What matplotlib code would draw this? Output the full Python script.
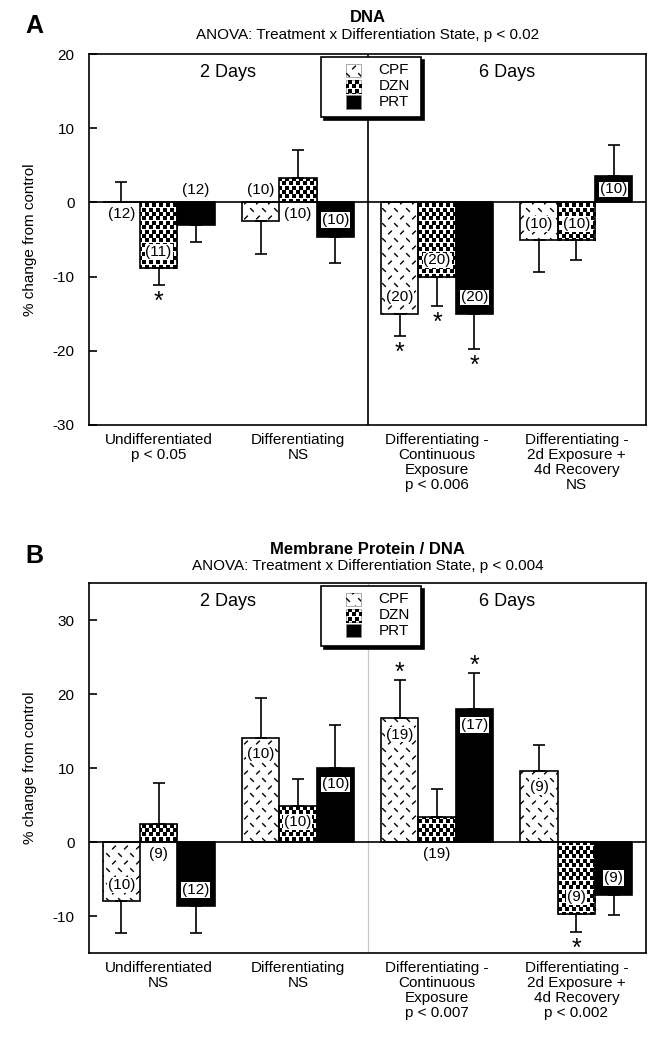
import numpy as np
import matplotlib
matplotlib.use("Agg")
import matplotlib.pyplot as plt
from matplotlib.patches import Rectangle
from matplotlib.path import Path
from matplotlib.transforms import IdentityTransform, blended_transform_factory, offset_copy

plt.rcParams['font.family'] = ['Liberation Sans', 'DejaVu Sans']
plt.rcParams['axes.unicode_minus'] = False

# ---------------- data ----------------
treatments = ["CPF", "DZN", "PRT"]

groups_A = ["Undifferentiated\np < 0.05", "Differentiating\nNS",
            "Differentiating -\nContinuous\nExposure\np < 0.006",
            "Differentiating -\n2d Exposure +\n4d Recovery\nNS"]
groups_B = ["Undifferentiated\nNS", "Differentiating\nNS",
            "Differentiating -\nContinuous\nExposure\np < 0.007",
            "Differentiating -\n2d Exposure +\n4d Recovery\np < 0.002"]

# Panel A: DNA (% change from control)
dna_cpf = [0.0, -2.5, -15.0, -5.1]
dna_dzn = [-8.9, 3.3, -10.0, -5.1]
dna_prt = [-3.1, -4.6, -15.0, 3.5]
dna_cpf_err = [2.7, 4.5, 3.0, 4.3]
dna_dzn_err = [2.2, 3.7, 4.0, 2.7]
dna_prt_err = [2.2, 3.5, 4.8, 4.2]
dna_cpf_n = [12, 10, 20, 10]
dna_dzn_n = [11, 10, 20, 10]
dna_prt_n = [12, 10, 20, 10]
dna_cpf_sig = [False, False, True, False]
dna_dzn_sig = [True, False, True, False]
dna_prt_sig = [False, False, True, False]

# Panel B: Membrane Protein / DNA (% change from control)
mp_cpf = [-8.0, 14.1, 16.7, 9.6]
mp_dzn = [2.4, 4.9, 3.4, -9.7]
mp_prt = [-8.7, 10.0, 18.0, -7.1]
mp_cpf_err = [4.3, 5.4, 5.2, 3.5]
mp_dzn_err = [5.6, 3.6, 3.8, 2.5]
mp_prt_err = [3.6, 5.8, 4.8, 2.7]
mp_cpf_n = [10, 10, 19, 9]
mp_dzn_n = [9, 10, 19, 9]
mp_prt_n = [12, 10, 17, 9]
mp_cpf_sig = [False, False, True, False]
mp_dzn_sig = [False, False, False, True]
mp_prt_sig = [False, False, True, False]

# label placement style (inside bar or outside across the zero line)
dna_inside = [[False, False, True, True], [True, False, True, True], [False, True, True, True]]
mp_inside = [[True, True, True, True], [False, True, False, True], [True, True, True, True]]

# ---------------- figure ----------------
W, H = 658, 1050
fig = plt.figure(figsize=(W / 100, H / 100), dpi=100)


def px_axes(l, t, r, b):
    return fig.add_axes([l / W, 1 - b / H, (r - l) / W, (b - t) / H])


BACKSLASH = Path([(-1, 1), (1, -1)])
SLASH = Path([(-1, -1), (1, 1)])


def add_texture(ax, patch, kind, zorder):
    if kind not in ("CPF", "DZN"):
        return
    bb = patch.get_window_extent()
    if bb.width <= 0 or bb.height <= 0:
        return
    if kind == "CPF":
        sx, sy = 12.0, 7.5
    else:
        sx, sy = 7.0, 4.4
    j0, j1 = int(np.floor(bb.y0 / sy)) - 1, int(np.ceil(bb.y1 / sy)) + 1
    i0, i1 = int(np.floor(bb.x0 / sx)) - 1, int(np.ceil(bb.x1 / sx)) + 1
    even, odd = [], []
    for j in range(j0, j1 + 1):
        shift = (j % 2) * sx / 2
        for i in range(i0, i1 + 1):
            (even if j % 2 == 0 else odd).append((i * sx + shift, j * sy))
    even, odd = np.array(even), np.array(odd)
    if kind == "CPF":
        for pts, mk in ((even, BACKSLASH), (odd, SLASH)):
            c = ax.scatter(pts[:, 0], pts[:, 1], marker=mk, s=7, facecolors='none',
                           edgecolors='k', linewidths=1.0, transform=IdentityTransform(),
                           zorder=zorder)
            c.set_clip_path(patch)
    else:
        pts = np.vstack([even, odd])
        c = ax.scatter(pts[:, 0], pts[:, 1], marker='s', s=7.5, c='k', linewidths=0,
                       transform=IdentityTransform(), zorder=zorder)
        c.set_clip_path(patch)


def draw_legend(ax):
    x0, x1, y0, y1 = 0.4165, 0.596, 0.830, 0.992
    sh = offset_copy(ax.transAxes, fig=fig, x=3, y=-3, units='dots')
    ax.add_patch(Rectangle((x0, y0), x1 - x0, y1 - y0, transform=sh, fc='k', ec='k',
                           lw=1.2, zorder=9, clip_on=False))
    ax.add_patch(Rectangle((x0, y0), x1 - x0, y1 - y0, transform=ax.transAxes, fc='white',
                           ec='k', lw=1.2, zorder=10, clip_on=False))
    centers = [0.956, 0.913, 0.871]
    for t, yc in zip(treatments, centers):
        fc = 'k' if t == "PRT" else 'white'
        p = Rectangle((0.4614, yc - 0.018), 0.0264, 0.036, transform=ax.transAxes,
                      fc=fc, ec='#888888', lw=0.5, zorder=11)
        ax.add_patch(p)
        add_texture(ax, p, t, 12)
        ax.text(0.5195, yc, t, transform=ax.transAxes, ha='left', va='center',
                fontsize=11, zorder=13)


def draw_panel(ax, groups, series, errs, ns, sigs, inside, ylim, yticks, divider_color):
    x = np.arange(len(groups))
    w = 0.268
    ax.set_xlim(-0.5, len(groups) - 0.5)
    ax.set_ylim(*ylim)
    ax.set_yticks(yticks)
    ax.set_xticks(x)
    ax.set_xticklabels(groups, linespacing=1.08)
    ax.tick_params(axis='y', direction='in', length=6, width=1.2, labelsize=11, pad=10.5)
    ax.tick_params(axis='x', length=0, labelsize=11, pad=6)
    for s in ax.spines.values():
        s.set_linewidth(1.2)
    ax.axvline(1.5, color=divider_color, lw=1.2 if divider_color == 'k' else 0.9, zorder=1)
    ax.axhline(0, color='k', lw=1.2, zorder=5)

    units_per_px = (ylim[1] - ylim[0]) / ax.get_window_extent().height
    for k, t in enumerate(treatments):
        vals = np.array(series[k], dtype=float)
        err = np.array(errs[k], dtype=float)
        xp = x + (k - 1) * w
        fc = 'k' if t == "PRT" else 'white'
        bars = ax.bar(xp, vals, w, color=fc, edgecolor='none', zorder=2)
        for b in bars:
            add_texture(ax, b, t, 3)
        ax.bar(xp, vals, w, fill=False, edgecolor='k', linewidth=1.2, zorder=4)
        lower = np.where(vals < 0, err, 0)
        upper = np.where(vals >= 0, err, 0)
        ax.errorbar(xp, vals, yerr=[lower, upper], fmt='none', ecolor='k',
                    elinewidth=1.2, capsize=4.5, capthick=1.2, zorder=4)
        for i in range(len(groups)):
            v = vals[i]
            sgn = 1 if v >= 0 else -1
            label = f"({ns[k][i]})"
            if inside[k][i]:
                y = v - sgn * min(2.2, abs(v) / 2)
                ax.text(xp[i], y, label, ha='center', va='center', fontsize=11, zorder=6,
                        bbox=dict(fc='white', ec='none', pad=0.6))
            else:
                y = -sgn * 12 * units_per_px if v != 0 else -12 * units_per_px
                ax.text(xp[i], y, label, ha='center', va='center', fontsize=11, zorder=6)
            if sigs[k][i]:
                end = v + sgn * err[i]
                if sgn < 0:
                    ax.annotate('*', (xp[i], end), xytext=(0, -5), textcoords='offset pixels',
                                ha='center', va='top', fontsize=18, zorder=6)
                else:
                    ax.annotate('*', (xp[i], end), xytext=(0, 0), textcoords='offset pixels',
                                ha='center', va='baseline', fontsize=18, zorder=6)

    bt = blended_transform_factory(ax.transData, ax.transAxes)
    ax.text(0.5, 0.95, "2 Days", transform=bt, ha='center', va='center', fontsize=13)
    ax.text(2.5, 0.95, "6 Days", transform=bt, ha='center', va='center', fontsize=13)
    draw_legend(ax)


axA = px_axes(89, 54, 646, 425)
axB = px_axes(89, 583, 646, 953)

draw_panel(axA, groups_A, [dna_cpf, dna_dzn, dna_prt], [dna_cpf_err, dna_dzn_err, dna_prt_err],
           [dna_cpf_n, dna_dzn_n, dna_prt_n], [dna_cpf_sig, dna_dzn_sig, dna_prt_sig],
           dna_inside, (-30, 20), [-30, -20, -10, 0, 10, 20], 'k')
draw_panel(axB, groups_B, [mp_cpf, mp_dzn, mp_prt], [mp_cpf_err, mp_dzn_err, mp_prt_err],
           [mp_cpf_n, mp_dzn_n, mp_prt_n], [mp_cpf_sig, mp_dzn_sig, mp_prt_sig],
           mp_inside, (-15, 35), [-10, 0, 10, 20, 30], '#c8c8c8')

cx = 367.5 / W
fig.text(cx, 1 - 18 / H, "DNA", ha='center', va='center', fontsize=12, fontweight='bold')
fig.text(cx, 1 - 35 / H, "ANOVA: Treatment x Differentiation State, p < 0.02", ha='center',
         va='center', fontsize=11)
fig.text(34 / W, 1 - 26 / H, "A", ha='center', va='center', fontsize=18, fontweight='bold')
fig.text(cx, 1 - 549 / H, "Membrane Protein / DNA", ha='center', va='center', fontsize=12,
         fontweight='bold')
fig.text(cx, 1 - 566 / H, "ANOVA: Treatment x Differentiation State, p < 0.004", ha='center',
         va='center', fontsize=11)
fig.text(34 / W, 1 - 556 / H, "B", ha='center', va='center', fontsize=18, fontweight='bold')

fig.text(30 / W, 1 - 240 / H, "% change from control", rotation=90, ha='center', va='center',
         fontsize=11)
fig.text(30 / W, 1 - 768 / H, "% change from control", rotation=90, ha='center', va='center',
         fontsize=11)

fig.savefig("out.png", dpi=100)
